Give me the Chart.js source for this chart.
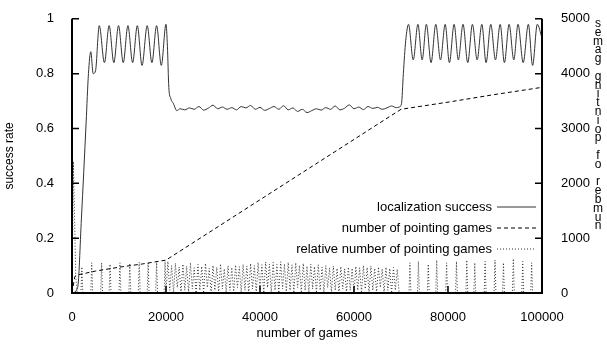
<!DOCTYPE html>
<html>
<head>
    <title>Localization success vs number of games</title>
    <script src="https://cdn.jsdelivr.net/npm/chart.js@4.4.0/dist/chart.umd.min.js"></script>
    <style>
        body {
            margin: 0;
            background: #fff;
        }
        #chart {
            display: block;
        }
    </style>
</head>
<body>
    <canvas id="chart" width="607" height="345"></canvas>

    <script>
        // localization success (left axis)
        const locX = [0, 1200, 2000, 3000, 3500, 4000, 4500, 5000, 5800, 6900, 7900, 8900, 9900, 10900,
            11900, 12900, 13900, 14900, 16000, 17000, 18000, 19000, 20000, 20300, 20600, 21000, 21600, 22300,
            23000, 24000, 25000, 26000, 27000, 28000, 29000, 30000, 31000, 32000, 33000, 34000, 35000,
            36000, 37000, 38000, 39000, 40000, 41000, 42000, 43000, 44000, 45000, 46000, 47000, 48000,
            49000, 50000, 51000, 52000, 53000, 54000, 55000, 56000, 57000, 58000, 59000, 60000, 61000,
            62000, 63000, 64000, 65000, 66000, 67000, 68000, 69000, 69600, 70100, 70500, 71000, 71600,
            72600, 73600, 74500, 75400, 76400, 77400, 78400, 79400, 80300, 81300, 82200, 83200, 84200,
            85200, 86200, 87200, 88100, 89100, 90100, 91100, 92000, 93000, 94000, 94900, 96000, 97100,
            98000, 99000, 100000];
        const locY = [0, 0.02, 0.27, 0.62, 0.8, 0.88, 0.8, 0.81, 0.975, 0.84, 0.975, 0.84, 0.975, 0.84,
            0.975, 0.84, 0.975, 0.83, 0.975, 0.84, 0.975, 0.83, 0.98, 0.9, 0.75, 0.71, 0.69, 0.665,
            0.672, 0.668, 0.675, 0.67, 0.68, 0.667, 0.674, 0.685, 0.672, 0.678, 0.67, 0.676, 0.668,
            0.68, 0.675, 0.684, 0.67, 0.677, 0.666, 0.673, 0.68, 0.67, 0.683, 0.668, 0.675, 0.662,
            0.67, 0.658, 0.665, 0.672, 0.667, 0.676, 0.67, 0.682, 0.668, 0.674, 0.686, 0.672, 0.678,
            0.669, 0.68, 0.673, 0.677, 0.67, 0.675, 0.682, 0.676, 0.678, 0.69, 0.8, 0.92, 0.98,
            0.85, 0.98, 0.85, 0.98, 0.84, 0.98, 0.85, 0.98, 0.84, 0.98, 0.85, 0.98, 0.84,
            0.98, 0.85, 0.98, 0.84, 0.98, 0.85, 0.98, 0.84, 0.98, 0.85, 0.98, 0.84, 0.98,
            0.83, 0.98, 0.93];

        // number of pointing games (right axis)
        const gamesX = [0, 600, 1200, 5000, 10000, 15000, 20000, 70000, 80000, 90000, 100000];
        const gamesY = [0, 300, 330, 400, 470, 530, 600, 3350, 3480, 3620, 3750];

        // relative number of pointing games (left axis)
        const relX = [0, 300, 800, 1100,
            1900, 2100, 2300, 4000, 4200, 4400, 6100, 6300, 6500, 7900, 8100, 8300, 10000, 10200, 10400,
            12100, 12300, 12500, 14100, 14300, 14500, 16000, 16200, 16400, 17800, 18000, 18200, 19600, 19800,
            20000, 20400, 20800, 21200, 21600, 22000, 22400, 22800, 23200, 23600,
            24000, 24400, 24800, 25200, 25600, 26000, 26400, 26800, 27200, 27600,
            28000, 28400, 28800, 29200, 29600, 30000, 30400, 30800, 31200, 31600,
            32000, 32400, 32800, 33200, 33600, 34000, 34400, 34800, 35200, 35600,
            36000, 36400, 36800, 37200, 37600, 38000, 38400, 38800, 39200, 39600,
            40000, 40400, 40800, 41200, 41600, 42000, 42400, 42800, 43200, 43600,
            44000, 44400, 44800, 45200, 45600, 46000, 46400, 46800, 47200, 47600,
            48000, 48400, 48800, 49200, 49600, 50000, 50400, 50800, 51200, 51600,
            52000, 52400, 52800, 53200, 53600, 54000, 54400, 54800, 55200, 55600,
            56000, 56400, 56800, 57200, 57600, 58000, 58400, 58800, 59200, 59600,
            60000, 60400, 60800, 61200, 61600, 62000, 62400, 62800, 63200, 63600,
            64000, 64400, 64800, 65200, 65600, 66000, 66400, 66800, 67200, 67600,
            68000, 68400, 68800, 69200, 69600, 70000,
            71700, 71900, 72100, 73500, 73700, 73900, 75600, 75800, 76000, 77400, 77600, 77800,
            79500, 79700, 79900, 81600, 81800, 82000, 83800, 84000, 84200, 85500, 85700, 85900,
            87700, 87900, 88100, 89800, 90000, 90200, 91600, 91800, 92000, 93700, 93900, 94100,
            95700, 95900, 96100, 97600, 97800, 98000, 100000];
        const relY = [0, 0.48, 0.06, 0,
            0, 0.095, 0, 0, 0.11, 0, 0, 0.11, 0, 0, 0.105, 0, 0, 0.11, 0,
            0, 0.108, 0, 0, 0.112, 0, 0, 0.11, 0, 0, 0.112, 0, 0, 0.115,
            0, 0.115, 0.01, 0.1, 0, 0.108, 0.02, 0.095, 0, 0.105,
            0.01, 0.098, 0, 0.11, 0.015, 0.092, 0, 0.104, 0.01, 0.097,
            0, 0.108, 0.02, 0.09, 0, 0.1, 0.01, 0.094, 0, 0.106,
            0.015, 0.088, 0, 0.099, 0.01, 0.093, 0, 0.102, 0.02, 0.096,
            0, 0.104, 0.01, 0.098, 0, 0.107, 0.015, 0.1, 0, 0.111,
            0.01, 0.103, 0, 0.113, 0.02, 0.105, 0, 0.112, 0.01, 0.104,
            0, 0.114, 0.015, 0.106, 0, 0.112, 0.01, 0.103, 0, 0.11,
            0.02, 0.1, 0, 0.108, 0.01, 0.098, 0, 0.105, 0.015, 0.096,
            0, 0.103, 0.01, 0.094, 0, 0.1, 0.02, 0.092, 0, 0.098,
            0.01, 0.09, 0, 0.096, 0.015, 0.088, 0, 0.094, 0.01, 0.09,
            0, 0.097, 0.01, 0.092, 0, 0.1, 0.015, 0.093, 0, 0.098,
            0.01, 0.09, 0, 0.095, 0.02, 0.088, 0, 0.094, 0.01, 0.089,
            0, 0.093, 0.01, 0.087, 0, 0,
            0, 0.11, 0, 0, 0.115, 0, 0, 0.105, 0, 0, 0.12, 0,
            0, 0.11, 0, 0, 0.115, 0, 0, 0.12, 0, 0, 0.11, 0,
            0, 0.115, 0, 0, 0.12, 0, 0, 0.11, 0, 0, 0.125, 0,
            0, 0.115, 0, 0, 0.11, 0, 0];

        const xTicks = [0, 20000, 40000, 60000, 80000, 100000];
        const yTicks = [0, 0.2, 0.4, 0.6, 0.8, 1];
        const y2Ticks = [0, 1000, 2000, 3000, 4000, 5000];

        const labels = ['localization success', 'number of pointing games', 'relative number of pointing games'];

        function pairs(xs, ys) {
            return xs.map((x, i) => ({ x: x, y: ys[i] }));
        }

        // gnuplot-like frame: left/bottom/right border with inward ticks, legend, stacked right title
        const framePlugin = {
            id: 'frame',
            afterDraw(chart) {
                const c = chart.ctx;
                const a = chart.chartArea;
                const sx = chart.scales.x, sy = chart.scales.y, sy2 = chart.scales.y2;
                c.save();
                c.strokeStyle = '#000';
                c.lineWidth = 2;
                c.beginPath();
                c.moveTo(a.left, a.top);
                c.lineTo(a.left, a.bottom);
                c.lineTo(a.right, a.bottom);
                c.lineTo(a.right, a.top);
                c.stroke();

                c.lineWidth = 1.5;
                c.beginPath();
                yTicks.forEach(v => {
                    const p = sy.getPixelForValue(v);
                    c.moveTo(a.left, p);
                    c.lineTo(a.left + 7, p);
                });
                y2Ticks.forEach(v => {
                    const p = sy2.getPixelForValue(v);
                    c.moveTo(a.right, p);
                    c.lineTo(a.right - 7, p);
                });
                xTicks.forEach(v => {
                    const p = sx.getPixelForValue(v);
                    c.moveTo(p, a.bottom);
                    c.lineTo(p, a.bottom - 7);
                });
                c.stroke();

                // legend, text first then line sample
                c.font = '13px "Liberation Sans", Arial, sans-serif';
                c.fillStyle = '#000';
                c.textAlign = 'right';
                c.textBaseline = 'middle';
                chart.data.datasets.forEach((ds, i) => {
                    const y = 207 + i * 21;
                    c.fillText(ds.label, 492, y);
                    c.beginPath();
                    c.strokeStyle = ds.borderColor;
                    c.lineWidth = 1;
                    c.setLineDash(ds.borderDash || []);
                    c.moveTo(497, y);
                    c.lineTo(536, y);
                    c.stroke();
                });
                c.setLineDash([]);

                // right axis title, letters stacked bottom to top
                const t = 'number of pointing games';
                c.font = '12px "Liberation Sans", Arial, sans-serif';
                c.textAlign = 'center';
                for (let i = 0; i < t.length; i++) {
                    c.fillText(t[i], 598, 226 - i * 8.8);
                }
                c.restore();
            }
        };

        Chart.defaults.font.family = '"Liberation Sans", Arial, sans-serif';
        Chart.defaults.font.size = 13;
        Chart.defaults.color = '#000';

        new Chart(document.getElementById('chart'), {
            type: 'line',
            data: {
                datasets: [
                    {
                        label: labels[0],
                        data: pairs(locX, locY),
                        yAxisID: 'y',
                        borderColor: '#333',
                        borderWidth: 1,
                        pointRadius: 0,
                        cubicInterpolationMode: 'monotone',
                        order: 1
                    },
                    {
                        label: labels[1],
                        data: pairs(gamesX, gamesY),
                        yAxisID: 'y2',
                        borderColor: '#000',
                        borderWidth: 1,
                        borderDash: [4, 3],
                        pointRadius: 0,
                        order: 2
                    },
                    {
                        label: labels[2],
                        data: pairs(relX, relY),
                        yAxisID: 'y',
                        borderColor: '#333',
                        borderWidth: 1,
                        borderDash: [1, 2],
                        pointRadius: 0,
                        order: 3
                    }
                ]
            },
            options: {
                responsive: false,
                animation: false,
                layout: { padding: { top: 13, left: 0, right: 0, bottom: 0 } },
                plugins: {
                    legend: { display: false },
                    tooltip: { enabled: false }
                },
                scales: {
                    x: {
                        type: 'linear',
                        min: 0,
                        max: 100000,
                        grid: { display: false },
                        border: { display: false },
                        ticks: { stepSize: 20000, padding: 9, maxRotation: 0, callback: v => String(v) },
                        title: { display: true, text: 'number of games', padding: { top: 4, bottom: 4 } },
                        afterFit: s => { s.height = 52; }
                    },
                    y: {
                        position: 'left',
                        min: 0,
                        max: 1,
                        grid: { display: false },
                        border: { display: false },
                        ticks: { stepSize: 0.2, padding: 10, callback: v => String(+v.toFixed(1)) },
                        title: { display: true, text: 'success rate', font: { size: 12 }, padding: 2 },
                        afterFit: s => { s.width = 72; }
                    },
                    y2: {
                        position: 'right',
                        min: 0,
                        max: 5000,
                        grid: { display: false },
                        border: { display: false },
                        ticks: { stepSize: 1000, padding: 11, callback: v => String(v) },
                        afterFit: s => { s.width = 65; }
                    }
                }
            },
            plugins: [framePlugin]
        });
    </script>
</body>
</html>
